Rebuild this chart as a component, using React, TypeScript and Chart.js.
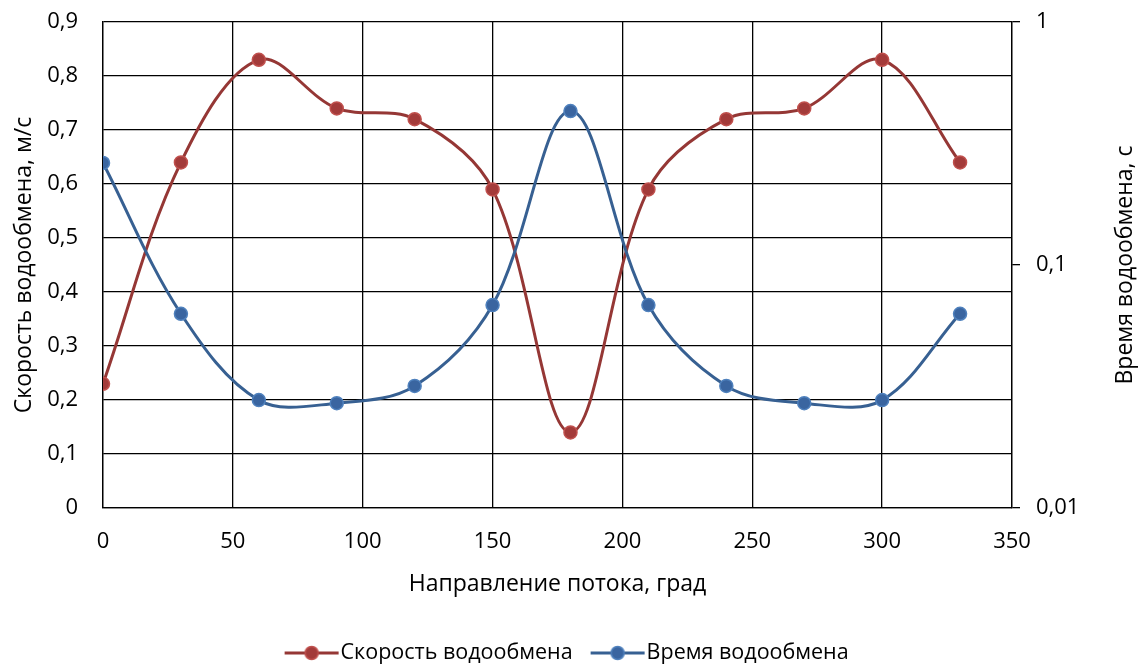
import React, { useEffect, useRef } from "react";
import { Chart, registerables } from "chart.js";

Chart.register(...registerables);

const directions = [0, 30, 60, 90, 120, 150, 180, 210, 240, 270, 300, 330];
const speedValues = [0.23, 0.64, 0.83, 0.74, 0.72, 0.59, 0.14, 0.59, 0.72, 0.74, 0.83, 0.64];
const timeValues = [0.263, 0.063, 0.0278, 0.027, 0.0318, 0.0684, 0.43, 0.0684, 0.0318, 0.027, 0.0278, 0.063];
const rightTickValues = [0.01, 0.1, 1];
const seriesNames = ["Скорость водообмена", "Время водообмена"];
const xTitle = "Направление потока, град";
const yLeftTitle = "Скорость водообмена, м/с";
const yRightTitle = "Время водообмена, с";

const FONT = "'Open Sans', 'DejaVu Sans', sans-serif";
const RED = "#953735";
const RED_FILL = "#a33b3a";
const RED_EDGE = "#c0504d";
const BLUE = "#376092";
const BLUE_FILL = "#3a65a0";
const BLUE_EDGE = "#4f81bd";

function legendIcon(line: string, fill: string, edge: string) {
  const c = document.createElement("canvas");
  c.width = 56;
  c.height = 18;
  const ctx = c.getContext("2d")!;
  ctx.strokeStyle = line;
  ctx.lineWidth = 3;
  ctx.beginPath();
  ctx.moveTo(1, 9);
  ctx.lineTo(55, 9);
  ctx.stroke();
  ctx.beginPath();
  ctx.arc(28, 9, 6.5, 0, Math.PI * 2);
  ctx.fillStyle = fill;
  ctx.fill();
  ctx.strokeStyle = edge;
  ctx.lineWidth = 1.5;
  ctx.stroke();
  return c;
}

const fmt = (v: number) => (v === 0 ? "0" : String(Number(v.toFixed(2))).replace(".", ","));

const rightTitlePlugin = {
  id: "rightTitle",
  afterDraw(chart: any) {
    const { ctx, chartArea } = chart;
    ctx.save();
    ctx.translate(1125, (chartArea.top + chartArea.bottom) / 2);
    ctx.rotate(-Math.PI / 2);
    ctx.font = `23px ${FONT}`;
    ctx.fillStyle = "#000";
    ctx.textAlign = "center";
    ctx.textBaseline = "middle";
    ctx.fillText(yRightTitle, 0, 0);
    ctx.restore();
  },
};

const zeroPad = (s: any) => {
  s.paddingTop = 0;
  s.paddingBottom = 0;
  s.paddingLeft = 0;
  s.paddingRight = 0;
};

export default function App() {
  const ref = useRef<HTMLCanvasElement>(null);
  useEffect(() => {
    document.body.style.margin = "0";
    const icons = [legendIcon(RED, RED_FILL, RED_EDGE), legendIcon(BLUE, BLUE_FILL, BLUE_EDGE)];
    const chart = new Chart(ref.current!, {
      type: "line",
      data: {
        datasets: [
          {
            label: seriesNames[0],
            data: directions.map((d, i) => ({ x: d, y: speedValues[i] })),
            yAxisID: "y",
            borderColor: RED,
            borderWidth: 3,
            backgroundColor: RED_FILL,
            pointBackgroundColor: RED_FILL,
            pointBorderColor: RED_EDGE,
            pointBorderWidth: 1.5,
            pointRadius: 6.5,
            tension: 0.35,
            order: 1,
          },
          {
            label: seriesNames[1],
            data: directions.map((d, i) => ({ x: d, y: timeValues[i] })),
            yAxisID: "y1",
            borderColor: BLUE,
            borderWidth: 3,
            backgroundColor: BLUE_FILL,
            pointBackgroundColor: BLUE_FILL,
            pointBorderColor: BLUE_EDGE,
            pointBorderWidth: 1.5,
            pointRadius: 6.5,
            tension: 0.35,
            order: 0,
          },
        ],
      },
      plugins: [rightTitlePlugin],
      options: {
        animation: false,
        responsive: false,
        maintainAspectRatio: false,
        layout: { padding: { top: 22, left: 0, right: 0, bottom: -5.75 } },
        plugins: {
          tooltip: { enabled: false },
          legend: {
            position: "bottom",
            title: { display: true, text: " ", font: { size: 10 }, padding: { top: 0.5, bottom: 0 } },
            labels: {
              usePointStyle: true,
              pointStyleWidth: 36.5,
              font: { family: FONT, size: 21.5 },
              color: "#000",
              padding: 26.75,
              generateLabels: (ch: any) =>
                ch.data.datasets.map((ds: any, i: number) => ({
                  text: ds.label,
                  pointStyle: icons[i],
                  fillStyle: ds.borderColor,
                  strokeStyle: ds.borderColor,
                  lineWidth: 0,
                  datasetIndex: i,
                  hidden: false,
                  fontColor: "#000",
                })),
            },
          },
        },
        scales: {
          x: {
            type: "linear",
            min: 0,
            max: 350,
            ticks: { stepSize: 50, color: "#000", font: { family: FONT, size: 22 }, padding: 21 },
            grid: { color: "#000", lineWidth: 1.3, drawTicks: false },
            border: { color: "#000", width: 1.3 },
            title: { display: true, text: xTitle, color: "#000", font: { family: FONT, size: 23 }, padding: { top: 0, bottom: 5 } },
            afterFit: (s: any) => {
              s.height = 95;
              zeroPad(s);
            },
          },
          y: {
            position: "left",
            min: 0,
            max: 0.9,
            ticks: { stepSize: 0.1, color: "#000", font: { family: FONT, size: 22 }, padding: 25, callback: (v: any) => fmt(Number(v)) },
            grid: { color: "#000", lineWidth: 1.3, drawTicks: false },
            border: { color: "#000", width: 1.3 },
            title: { display: true, text: yLeftTitle, color: "#000", font: { family: FONT, size: 23 }, padding: { top: 11, bottom: 0 } },
            afterFit: (s: any) => {
              s.width = 103;
              zeroPad(s);
            },
          },
          y1: {
            type: "logarithmic",
            position: "right",
            min: 0.01,
            max: 1,
            afterBuildTicks: (s: any) => {
              s.ticks = rightTickValues.map((v) => ({ value: v }));
            },
            ticks: { color: "#000", font: { family: FONT, size: 22 }, padding: 16, callback: (v: any) => fmt(Number(v)) },
            grid: { drawOnChartArea: false, color: "#000", lineWidth: 1.3, tickLength: 8 },
            border: { color: "#000", width: 1.3 },
            title: { display: false },
            afterFit: (s: any) => {
              s.width = 130;
              zeroPad(s);
            },
          },
        },
      },
    } as any);
    return () => chart.destroy();
  }, []);
  return <canvas ref={ref} width={1142} height={668} style={{ display: "block", width: 1142, height: 668 }} />;
}
